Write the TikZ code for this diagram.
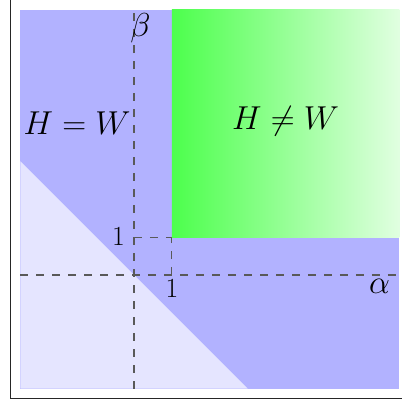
\documentclass[tikz,border=0pt]{standalone}
\usepackage{amsmath, amssymb}
\usepackage{tikz}
\usetikzlibrary{positioning, calc}

\begin{document}
\begin{tikzpicture}[
    axisline/.style={draw=black!65, line width=0.8pt, dash pattern=on 6pt off 6pt},
    biglabel/.style={font=\fontsize{24}{28}\selectfont},
    unitlabel/.style={font=\fontsize{20}{24}\selectfont}
  ]
  \useasboundingbox (-3.536,-3.404) rectangle (7.045,7.256);
  % Frame
  \draw[line width=0.8pt, black!85] (-3.27,-3.27) rectangle (7.4,7.4);
  % Region above alpha+beta=0
  \fill[blue!30] (-3,-3) rectangle (7,7);
  % Region below alpha+beta=0
  \fill[blue!10] (-3,-3) -- (-3,3) -- (3,-3) -- cycle;
  % alpha>1, beta>1
  \shade[left color=green!70, right color=green!12] (1,1) rectangle (7,7);
  % Named points
  \coordinate (xl) at (-3,0);
  \coordinate (xr) at (7,0);
  \coordinate (yb) at (0,-3);
  \coordinate (yt) at (0,6.9);
  \coordinate (x1) at (1,0);
  \coordinate (y1) at (0,1);
  \coordinate (p11) at (1,1);
  % Axes
  \draw[axisline] (xl) -- (xr);
  \draw[axisline] (yb) -- (yt);
  \draw[axisline] (y1) -- (p11);
  \draw[axisline] (x1) -- (p11);
  % Labels
  \node[biglabel] (alab) at (6.48,-0.3) {$\alpha$};
  \node[biglabel] (blab) at (0.17,6.5) {$\beta$};
  \node[unitlabel] (onex) at (1.0,-0.37) {$1$};
  \node[unitlabel] (oney) at (-0.41,1.0) {$1$};
  \node[biglabel] (eq) at (-1.5,4) {$H=W$};
  \node[biglabel] (neq) at (4,4.05) {$H\neq W$};
\end{tikzpicture}
\end{document}
